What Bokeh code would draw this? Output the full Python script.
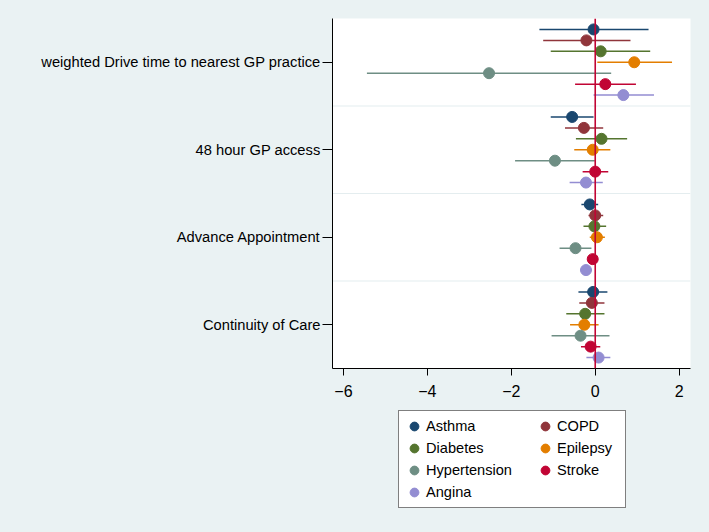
from bokeh.plotting import figure
from bokeh.layouts import column
from bokeh.models import Span, FixedTicker, Legend, LegendItem, ColumnDataSource
from bokeh.embed import file_html
from bokeh.resources import INLINE

categories = ["weighted Drive time to nearest GP practice", "48 hour GP access",
              "Advance Appointment", "Continuity of Care"]
series = ["Asthma", "COPD", "Diabetes", "Epilepsy", "Hypertension", "Stroke", "Angina"]
colors = ["#1a476f", "#90353b", "#55752f", "#e37e00", "#6e8e84", "#c10534", "#938dd2"]

asthma_est = [-0.04, -0.55, -0.13, -0.05]
asthma_lo = [-1.33, -1.06, -0.33, -0.40]
asthma_hi = [1.27, -0.04, 0.07, 0.29]
copd_est = [-0.21, -0.27, 0.00, -0.08]
copd_lo = [-1.24, -0.72, -0.16, -0.38]
copd_hi = [0.84, 0.19, 0.19, 0.22]
diabetes_est = [0.13, 0.15, -0.02, -0.24]
diabetes_lo = [-1.06, -0.46, -0.28, -0.69]
diabetes_hi = [1.31, 0.76, 0.26, 0.22]
epilepsy_est = [0.93, -0.06, 0.04, -0.26]
epilepsy_lo = [0.05, -0.50, -0.13, -0.60]
epilepsy_hi = [1.83, 0.36, 0.23, 0.08]
hypertension_est = [-2.53, -0.96, -0.47, -0.35]
hypertension_lo = [-5.44, -1.91, -0.85, -1.04]
hypertension_hi = [0.38, -0.01, -0.09, 0.34]
stroke_est = [0.24, 0.00, -0.06, -0.11]
stroke_lo = [-0.48, -0.30, -0.12, -0.34]
stroke_hi = [0.97, 0.31, 0.04, 0.12]
angina_est = [0.67, -0.22, -0.22, 0.08]
angina_lo = [-0.04, -0.61, -0.35, -0.21]
angina_hi = [1.40, 0.18, -0.08, 0.36]

x_ticks = [-6, -4, -2, 0, 2]

data = [
    (asthma_est, asthma_lo, asthma_hi),
    (copd_est, copd_lo, copd_hi),
    (diabetes_est, diabetes_lo, diabetes_hi),
    (epilepsy_est, epilepsy_lo, epilepsy_hi),
    (hypertension_est, hypertension_lo, hypertension_hi),
    (stroke_est, stroke_lo, stroke_hi),
    (angina_est, angina_lo, angina_hi),
]

BG = "#eaf2f3"
FONT = "Liberation Sans"
ngroups = len(categories)
group_span = 8
centers = [(ngroups - 1 - g) * group_span + group_span / 2 for g in range(ngroups)]

W = 693
p = figure(width=W, height=400, output_backend="svg", toolbar_location=None,
           x_range=(-6.26, 2.27), y_range=(0, ngroups * group_span),
           min_border_left=332, min_border_right=3, min_border_top=18,
           min_border_bottom=32)
p.background_fill_color = "white"
p.border_fill_color = BG
p.outline_line_color = None

# separators between groups
for g in range(1, ngroups):
    p.add_layout(Span(location=g * group_span, dimension="width",
                      line_color="#e4edef", line_width=1.2, level="underlay"))

for i, (name, col, (est, lo, hi)) in enumerate(zip(series, colors, data)):
    ys = [c + 3 - i for c in centers]
    src = ColumnDataSource(dict(y=ys, est=est, lo=lo, hi=hi))
    p.segment(x0="lo", y0="y", x1="hi", y1="y", source=src, line_color=col, line_width=1.5)
    p.scatter(x="est", y="y", source=src, size=11, fill_color=col, line_color=col)

p.add_layout(Span(location=0, dimension="height", line_color="#c10534", line_width=1.6))

p.grid.visible = False

# x axis
p.xaxis.ticker = FixedTicker(ticks=x_ticks)
p.xaxis.major_label_text_font = FONT
p.xaxis.major_label_text_font_size = "16px"
p.xaxis.major_label_text_color = "black"
p.xaxis.major_tick_out = 7
p.xaxis.major_tick_in = 0
p.xaxis.minor_tick_out = 0
p.xaxis.minor_tick_in = 0
p.xaxis.major_label_standoff = 9
p.xaxis.axis_line_color = "black"
p.xaxis.major_tick_line_color = "black"

# y axis
p.yaxis.ticker = FixedTicker(ticks=centers)
p.yaxis.major_label_overrides = {c: lab for c, lab in zip(centers, categories)}
p.yaxis.major_label_text_font = FONT
p.yaxis.major_label_text_font_size = "14.7px"
p.yaxis.major_label_text_color = "black"
p.yaxis.major_tick_out = 10
p.yaxis.major_tick_in = 0
p.yaxis.minor_tick_out = 0
p.yaxis.minor_tick_in = 0
p.yaxis.major_label_standoff = 2
p.yaxis.axis_line_color = "black"
p.yaxis.major_tick_line_color = "black"

# legend panel (separate figure below the plot; its frame is aligned with the plot frame)
LH = 116
lf = figure(width=W, height=LH, output_backend="svg", toolbar_location=None,
            x_range=(0, 1), y_range=(0, 1), x_axis_type=None, y_axis_type=None,
            min_border_left=332, min_border_right=3, min_border_top=0,
            min_border_bottom=0)
lf.border_fill_color = BG
lf.background_fill_color = BG
lf.outline_line_color = None
lf.grid.visible = False

legend_renderers = []
for name, col in zip(series, colors):
    r = lf.scatter(x=[float("nan")], y=[float("nan")], size=11, fill_color=col, line_color=col)
    legend_renderers.append(r)

common = dict(label_text_font=FONT, label_text_font_size="14.6px",
              label_text_color="black", glyph_width=22, glyph_height=22,
              label_height=22, label_standoff=1, spacing=0, padding=4, margin=0)

col1 = [0, 2, 4, 6]
col2 = [1, 3, 5]
legend1 = Legend(items=[LegendItem(label=series[k], renderers=[legend_renderers[k]]) for k in col1],
                 orientation="vertical", label_width=195,
                 border_line_color="black", border_line_width=1,
                 background_fill_color="white", background_fill_alpha=1,
                 location=(66, 8), **common)
legend2 = Legend(items=[LegendItem(label=series[k], renderers=[legend_renderers[k]]) for k in col2],
                 orientation="vertical",
                 border_line_color=None, background_fill_alpha=0,
                 location=(202, 35), **common)
lf.add_layout(legend1)
lf.add_layout(legend2)

layout = column(p, lf, spacing=0)

html = file_html(layout, INLINE)
html = html.replace("<body>", '<body style="background-color:#eaf2f3;">')
open("out.html", "w").write(html)
